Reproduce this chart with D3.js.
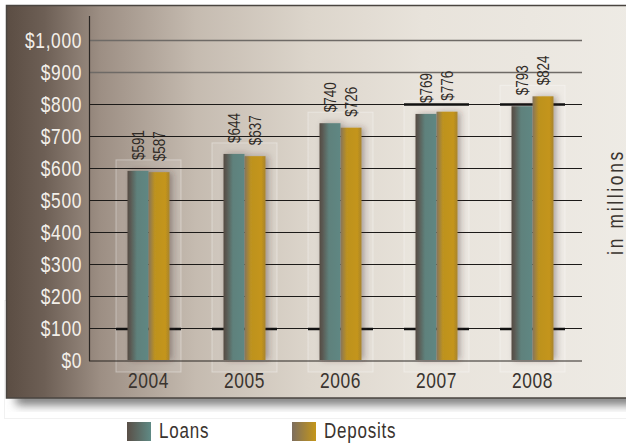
<!DOCTYPE html>
<html>
<head>
<meta charset="utf-8">
<script src="https://cdn.jsdelivr.net/npm/d3@7/dist/d3.min.js"></script>
<style>
  html, body { margin: 0; padding: 0; background: #ffffff; }
  svg { display: block; }
  text { font-family: "Liberation Sans", Arial, sans-serif; }
</style>
</head>
<body>
<svg id="chart" width="626" height="446"></svg>
<script>
// ---- data ----
const years = ["2004", "2005", "2006", "2007", "2008"];
const series = ["Loans", "Deposits"];
const loans = [591, 644, 740, 769, 793];
const deposits = [587, 637, 726, 776, 824];
const yTicks = [0, 100, 200, 300, 400, 500, 600, 700, 800, 900, 1000];
const accentAt100 = ["2004", "2005", "2006", "2007", "2008"];
const accentAt800 = ["2007", "2008"];
const unitLabel = "in millions";

const values = { Loans: loans, Deposits: deposits };
const SX = 0.79; // horizontal compression to mimic a condensed face

const svg = d3.select("#chart");
const W = 626, H = 446;
const defs = svg.append("defs");

// ---- gradients ----
const bg = defs.append("linearGradient").attr("id", "bg").attr("x1", 0).attr("x2", 1).attr("y1", 0).attr("y2", 0);
[[0, "#5b4d43"], [0.06, "#6d5f55"], [0.15, "#9d8f84"], [0.3, "#c5bbb0"], [0.48, "#dcd5cb"], [0.66, "#e8e3db"], [1, "#eeebe5"]]
  .forEach(([o, c]) => bg.append("stop").attr("offset", o).attr("stop-color", c));

const gLoans = defs.append("linearGradient").attr("id", "gLoans").attr("x1", 0).attr("x2", 1).attr("y1", 0).attr("y2", 0);
[[0, "#564a42"], [0.15, "#5a5a53"], [0.45, "#5e817c"], [1, "#5f8783"]]
  .forEach(([o, c]) => gLoans.append("stop").attr("offset", o).attr("stop-color", c));
const gDep = defs.append("linearGradient").attr("id", "gDeposits").attr("x1", 0).attr("x2", 1).attr("y1", 0).attr("y2", 0);
[[0, "#85745c"], [0.3, "#bd9220"], [0.8, "#c4951a"], [1, "#a7832e"]]
  .forEach(([o, c]) => gDep.append("stop").attr("offset", o).attr("stop-color", c));

const sLoans = defs.append("linearGradient").attr("id", "sLoans").attr("x1", 0).attr("x2", 1).attr("y1", 0).attr("y2", 0);
[[0, "#5a4f47"], [1, "#5f8a85"]].forEach(([o, c]) => sLoans.append("stop").attr("offset", o).attr("stop-color", c));
const sDep = defs.append("linearGradient").attr("id", "sDeposits").attr("x1", 0).attr("x2", 1).attr("y1", 0).attr("y2", 0);
[[0, "#7d6e5e"], [1, "#c4961a"]].forEach(([o, c]) => sDep.append("stop").attr("offset", o).attr("stop-color", c));

const blur = defs.append("filter").attr("id", "panelShadow").attr("x", "-10%").attr("y", "-50%").attr("width", "120%").attr("height", "200%");
blur.append("feGaussianBlur").attr("stdDeviation", 5);

const barShadow = defs.append("filter").attr("id", "barShadow").attr("x", "-30%").attr("y", "-10%").attr("width", "160%").attr("height", "120%");
barShadow.append("feDropShadow").attr("dx", 3).attr("dy", 0).attr("stdDeviation", 3)
  .attr("flood-color", "#3a2e25").attr("flood-opacity", 0.35);

// ---- background / panel ----
svg.append("rect").attr("width", W).attr("height", H).attr("fill", "#ffffff");
svg.append("rect").attr("x", 4.5).attr("y", 300.5).attr("width", 630).attr("height", 118)
  .attr("fill", "none").attr("stroke", "#f1f1f1").attr("stroke-width", 1);
svg.append("rect").attr("x", 16).attr("y", 392).attr("width", 640).attr("height", 13)
  .attr("fill", "#7a7a7a").attr("filter", "url(#panelShadow)");
svg.append("rect").attr("x", 0).attr("y", 0).attr("width", W).attr("height", 5).attr("fill", "#ffffff");
svg.append("rect").attr("x", 6.5).attr("y", 5.5).attr("width", 630).attr("height", 392.5)
  .attr("fill", "url(#bg)").attr("stroke", "#4a4540").attr("stroke-width", 1.5);

// ---- scales ----
const x0 = d3.scaleBand().domain(years).range([100.5, 580.5]).paddingInner(0.5625).paddingOuter(0.28125);
const x1 = d3.scaleBand().domain(series).range([0, x0.bandwidth()]);
const y = d3.scaleLinear().domain([0, 1000]).range([360, 40]);
const plotLeft = 89, plotRight = 582;

// group boxes (faint 3D backdrop)
const boxHalf = 32.5;
const boxTop = i => y(Math.max(loans[i], deposits[i])) - 11;
svg.append("g").selectAll("rect").data(years).join("rect")
  .attr("x", d => x0(d) + x0.bandwidth() / 2 - boxHalf)
  .attr("y", (d, i) => boxTop(i))
  .attr("width", boxHalf * 2)
  .attr("height", (d, i) => 372 - boxTop(i))
  .attr("fill", "rgba(255,255,255,0.10)")
  .attr("stroke", "rgba(255,255,255,0.35)")
  .attr("stroke-width", 1);

// gridlines
svg.append("g").selectAll("line").data(yTicks.filter(t => t > 0)).join("line")
  .attr("x1", plotLeft).attr("x2", plotRight)
  .attr("y1", d => Math.round(y(d)) + 0.5).attr("y2", d => Math.round(y(d)) + 0.5)
  .attr("stroke", d => d >= 900 ? "#6e6a66" : "#1c1a18")
  .attr("stroke-width", d => d >= 900 ? 1.3 : 1.1);

// accent segments
const acc = svg.append("g");
acc.selectAll("line.a100").data(accentAt100).join("line").attr("class", "a100")
  .attr("x1", d => x0(d) + x0.bandwidth() / 2 - boxHalf)
  .attr("x2", d => x0(d) + x0.bandwidth() / 2 + boxHalf)
  .attr("y1", Math.round(y(100)) + 1).attr("y2", Math.round(y(100)) + 1)
  .attr("stroke", "#111").attr("stroke-width", 2.5);
acc.selectAll("line.a800").data(accentAt800).join("line").attr("class", "a800")
  .attr("x1", d => x0(d) + x0.bandwidth() / 2 - boxHalf)
  .attr("x2", d => x0(d) + x0.bandwidth() / 2 + boxHalf)
  .attr("y1", Math.round(y(800)) + 0.5).attr("y2", Math.round(y(800)) + 0.5)
  .attr("stroke", "#111").attr("stroke-width", 2.5);

// axes lines
svg.append("line").attr("x1", plotLeft + 0.5).attr("x2", plotLeft + 0.5).attr("y1", 16).attr("y2", 361)
  .attr("stroke", "#2a2623").attr("stroke-width", 1.2);
svg.append("line").attr("x1", plotLeft).attr("x2", plotRight).attr("y1", 361).attr("y2", 361)
  .attr("stroke", "#2a2623").attr("stroke-width", 1.2);

// y labels
svg.append("g").selectAll("text").data(yTicks).join("text")
  .attr("transform", d => `translate(82,${y(d)}) scale(${SX},1)`)
  .attr("text-anchor", "end").attr("dominant-baseline", "central")
  .attr("font-size", 22).attr("letter-spacing", 0.8)
  .attr("fill", "#f3efe9")
  .text(d => "$" + d3.format(",")(d));

// bars
const groups = svg.append("g").selectAll("g").data(years).join("g")
  .attr("transform", d => `translate(${x0(d)},0)`)
  .attr("filter", "url(#barShadow)");
groups.selectAll("rect").data((d, i) => series.map(s => ({ s, v: values[s][i] }))).join("rect")
  .attr("x", d => x1(d.s))
  .attr("width", x1.bandwidth())
  .attr("y", d => y(d.v))
  .attr("height", d => y(0) - y(d.v))
  .attr("fill", d => `url(#g${d.s})`);

// bar value labels
const lab = svg.append("g");
years.forEach((yr, i) => {
  series.forEach(s => {
    const v = values[s][i];
    const cx = x0(yr) + x1(s) + x1.bandwidth() / 2;
    const cy = y(v) - 11;
    lab.append("text")
      .attr("transform", `translate(${cx - 0.5},${cy}) rotate(-90) scale(${SX},1)`)
      .attr("text-anchor", "start").attr("dominant-baseline", "central")
      .attr("font-size", 17).attr("letter-spacing", 0)
      .attr("fill", "#2f2a26")
      .text("$" + v);
  });
});

// x labels
svg.append("g").selectAll("text").data(years).join("text")
  .attr("transform", d => `translate(${x0(d) + x0.bandwidth() / 2},387.5) scale(${SX},1)`)
  .attr("text-anchor", "middle")
  .attr("font-size", 22).attr("letter-spacing", 0.8)
  .attr("fill", "#3a342f")
  .text(d => d);

// unit label
svg.append("text")
  .attr("transform", `translate(622.5,202) rotate(-90) scale(${SX},1)`)
  .attr("text-anchor", "middle")
  .attr("font-size", 22).attr("letter-spacing", 3.4)
  .attr("fill", "#3a342f")
  .text(unitLabel);

// legend
const legendX = [127, 292];
const leg = svg.append("g").selectAll("g").data(series).join("g")
  .attr("transform", (d, i) => `translate(${legendX[i]},422)`);
leg.append("rect").attr("width", 24).attr("height", 19).attr("fill", d => `url(#s${d})`);
leg.append("text")
  .attr("transform", `translate(32,15.5) scale(${SX},1)`)
  .attr("font-size", 21.5).attr("letter-spacing", 1)
  .attr("fill", "#3a342f")
  .text(d => d);
</script>
</body>
</html>
